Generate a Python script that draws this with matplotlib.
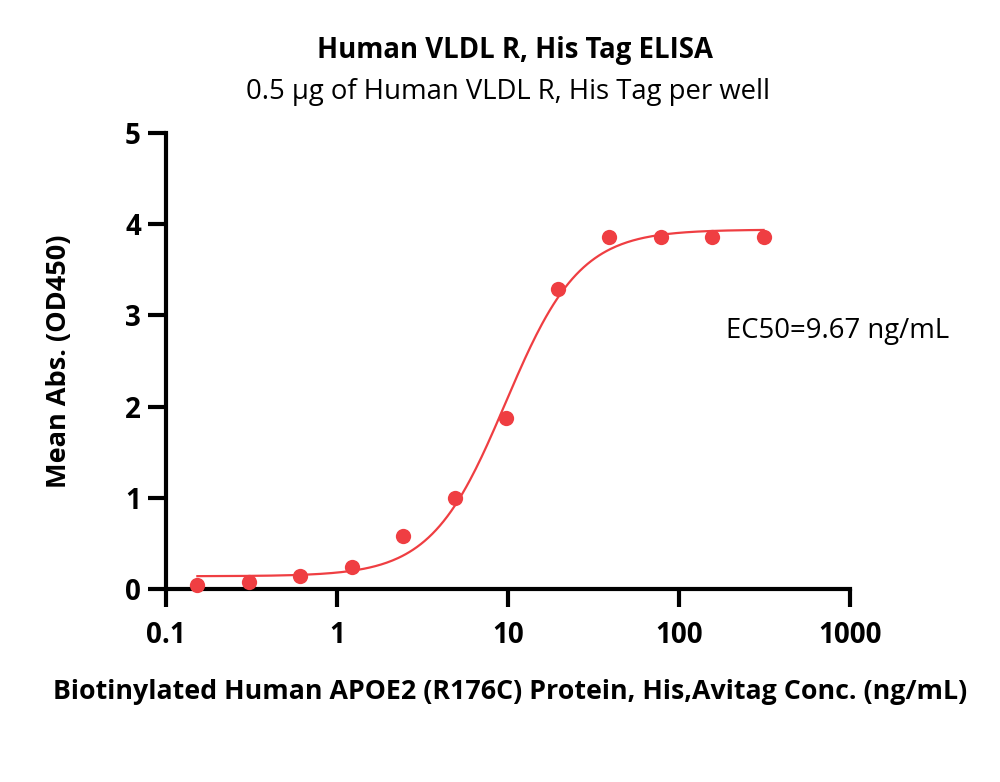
import numpy as np
import matplotlib
matplotlib.use('Agg')
import matplotlib.pyplot as plt
from matplotlib.ticker import FixedLocator, NullLocator

# measured points
conc = [0.1526, 0.3052, 0.6104, 1.2207, 2.4414, 4.8828, 9.7656, 19.531, 39.063, 78.125, 156.25, 312.5]
od450 = [0.04, 0.08, 0.14, 0.24, 0.58, 1.00, 1.87, 3.29, 3.86, 3.86, 3.86, 3.86]

# 4PL fit parameters (bottom, top, EC50, hill)
fit_bottom = 0.14
fit_top = 3.94
fit_ec50 = 9.67
fit_hill = 2.0

xticks = [0.1, 1, 10, 100, 1000]
xticklabels = ['0.1', '1', '10', '100', '1000']
yticks = [0, 1, 2, 3, 4, 5]

red = '#EF3E42'
font = 'Open Sans'

fig = plt.figure(figsize=(10, 7.82), dpi=100)
ax = fig.add_axes([0.166, 0.2468, 0.684, 0.5832])

xs = np.logspace(np.log10(conc[0]), np.log10(conc[-1]), 300)
ys = fit_bottom + (fit_top - fit_bottom) / (1 + (fit_ec50 / xs) ** fit_hill)
ax.plot(xs, ys, color=red, lw=1.6, zorder=2)
ax.plot(conc, od450, 'o', color=red, ms=11, mec='none', zorder=3, clip_on=False)

ax.set_xscale('log')
ax.set_xlim(0.1, 1000)
ax.set_ylim(0, 5)
ax.xaxis.set_major_locator(FixedLocator(xticks))
ax.xaxis.set_minor_locator(NullLocator())
ax.set_xticklabels(xticklabels)
ax.set_yticks(yticks)

for s in ['top', 'right']:
    ax.spines[s].set_visible(False)
for s in ['left', 'bottom']:
    ax.spines[s].set_linewidth(3)
    ax.spines[s].set_capstyle('projecting')
ax.tick_params(axis='both', which='major', direction='out', length=13, width=3)
ax.tick_params(axis='x', pad=10)
ax.tick_params(axis='y', pad=5)

for lab in ax.get_xticklabels() + ax.get_yticklabels():
    lab.set_fontfamily(font)
    lab.set_fontweight('bold')
    lab.set_fontsize(20)

ax.set_ylabel('Mean Abs. (OD450)', fontfamily=font, fontweight='bold', fontsize=19.5)
ax.yaxis.set_label_coords(-0.137, 0.5)
fig.text(0.51, 0.115, 'Biotinylated Human APOE2 (R176C) Protein, His,Avitag Conc. (ng/mL)',
         ha='center', va='center', fontfamily=font, fontweight='bold', fontsize=19.3)

fig.text(0.515, 0.936, 'Human VLDL R, His Tag ELISA', ha='center', va='center',
         fontfamily=font, fontweight='bold', fontsize=19.8)
fig.text(0.508, 0.882, '0.5 \u00b5g of Human VLDL R, His Tag per well', ha='center', va='center',
         fontfamily=font, fontsize=19.8)

ax.text(0.819, 0.565, 'EC50=9.67 ng/mL', transform=ax.transAxes, ha='left', va='center',
        fontfamily=font, fontsize=19.8)

fig.savefig('out.png', dpi=100)
